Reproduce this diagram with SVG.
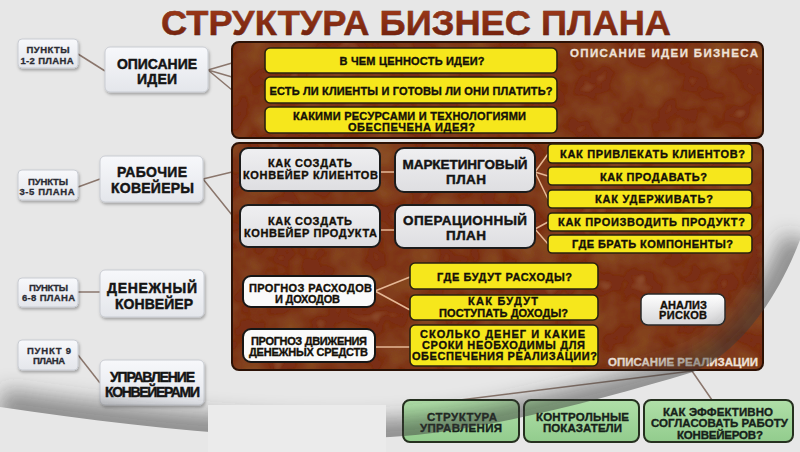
<svg xmlns="http://www.w3.org/2000/svg" width="800" height="452" viewBox="0 0 800 452">
<defs>
<style>
.t{font-family:"Liberation Sans",Arial,Helvetica,sans-serif;font-weight:bold;text-anchor:middle;stroke-width:0.45px}
.s{font-size:9.5px;fill:#2a2b33;stroke:#2a2b33;stroke-width:0.3px}
.b{font-size:14px;fill:#141414;stroke:#141414}
.y{font-size:11px;fill:#141008;stroke:#141008;stroke-width:0.35px}
.m{font-size:13.5px;fill:#141414;stroke:#141414}
.g{font-size:11.5px;fill:#17221a;stroke:#17221a;stroke-width:0.35px}
.pl{font-size:11.5px;fill:#efe2d8;stroke:#efe2d8;stroke-width:0.3px;text-anchor:end}
.lb{fill:url(#gLeft);stroke:#c9ccd2;stroke-width:1}
.yb{fill:#f6e71c;stroke:#2a2210;stroke-width:1.6}
.gb{fill:url(#gGray);stroke:#1c1c1c;stroke-width:2}
.wb{fill:#fafafa;stroke:#161616;stroke-width:2}
.grb{fill:url(#gGreen);stroke:#25301f;stroke-width:2}
.pf{fill:#7a2f15}
.ps{fill:none;stroke:#2c1206;stroke-width:2}
.co{stroke:#8a766c;stroke-width:1.5;fill:none}
.ci{stroke:#e6b896;stroke-width:1.5;fill:none}
</style>
<linearGradient id="gTitle" x1="0" y1="0" x2="0" y2="1">
<stop offset="0" stop-color="#a53e1c"/><stop offset="1" stop-color="#6a1d0b"/>
</linearGradient>
<linearGradient id="gLeft" x1="0" y1="0" x2="0" y2="1">
<stop offset="0" stop-color="#f7f8fb"/><stop offset="1" stop-color="#e4e6eb"/>
</linearGradient>
<linearGradient id="gGray" x1="0" y1="0" x2="0" y2="1">
<stop offset="0" stop-color="#efeff1"/><stop offset="1" stop-color="#dedee1"/>
</linearGradient>
<linearGradient id="gWhite" x1="0" y1="0" x2="0" y2="1">
<stop offset="0" stop-color="#ffffff"/><stop offset="1" stop-color="#d6d6d8"/>
</linearGradient>
<linearGradient id="gGreen" x1="0" y1="0" x2="0" y2="1">
<stop offset="0" stop-color="#b0dfa8"/><stop offset="1" stop-color="#92cc8d"/>
</linearGradient>
<filter id="tex" x="-0.01" y="-0.02" width="1.02" height="1.04">
<feTurbulence type="fractalNoise" baseFrequency="0.03" numOctaves="3" seed="11" result="n"/>
<feColorMatrix in="n" type="matrix" values="0 0 0 0 0.26  0 0 0 0 0.08  0 0 0 0 0.02  1.8 0 0 0 -0.72" result="dk"/>
<feComposite in="dk" in2="SourceGraphic" operator="in" result="dk2"/>
<feColorMatrix in="n" type="matrix" values="0 0 0 0 0.6  0 0 0 0 0.27  0 0 0 0 0.12  -1.0 0 0 0 0.3" result="lt"/>
<feComposite in="lt" in2="SourceGraphic" operator="in" result="lt2"/>
<feMerge><feMergeNode in="SourceGraphic"/><feMergeNode in="dk2"/><feMergeNode in="lt2"/></feMerge>
</filter>
<filter id="sh" x="-0.1" y="-0.1" width="1.3" height="1.4">
<feDropShadow dx="1" dy="2" stdDeviation="1.5" flood-color="#000" flood-opacity="0.3"/>
</filter>
<filter id="fBlur" filterUnits="userSpaceOnUse" x="-60" y="100" width="920" height="420">
<feGaussianBlur stdDeviation="10"/>
</filter>
<clipPath id="cAbove">
<path d="M0,407 C140,428 280,442 390,437 C480,432 600,400 693,372 C735,355 775,305 800,240 L800,0 L0,0 Z"/>
</clipPath>
</defs>

<rect width="800" height="452" fill="#e7e7e7"/>

<g id="title">
<text class="t" x="416" y="35" font-size="35" textLength="510" lengthAdjust="spacingAndGlyphs" fill="url(#gTitle)" stroke="#3a0f05" stroke-width="2.2" paint-order="stroke">СТРУКТУРА БИЗНЕС ПЛАНА</text>
</g>

<g id="connectors">
<path class="co" d="M78,54 L105,71"/>
<path class="co" d="M208,70 L232,63 M208,70 L232,77 M208,70 L232,90"/>
<path class="co" d="M78,187 L100,179"/>
<path class="co" d="M203,179 L232,172 M203,179 L232,215"/>
<path class="co" d="M78,292 L100,292"/>
<path class="co" d="M78,355 L100,383"/>
<path class="co" d="M692,371 L460,400 M692,371 L712,400" stroke-width="1.2"/>
</g>

<g id="panel-idea">
<rect class="pf" x="232" y="42" width="531" height="96" rx="7" filter="url(#tex)"/>
<rect class="ps" x="232" y="42" width="531" height="96" rx="7"/>
<text class="t pl" x="758" y="57" textLength="188">ОПИСАНИЕ ИДЕИ БИЗНЕСА</text>
</g>

<g id="panel-realization">
<rect class="pf" x="232" y="143" width="531" height="227" rx="7" filter="url(#tex)"/>
<rect class="ps" x="232" y="143" width="531" height="227" rx="7"/>
<text class="t pl" x="758" y="366" textLength="150">ОПИСАНИЕ РЕАЛИЗАЦИИ</text>
</g>

<g id="inner-connectors">
<path class="ci" d="M380,172 L395,172 M380,230 L395,230"/>
<path class="ci" d="M535,172 L548,154 M535,172 L548,176 M535,172 L548,199"/>
<path class="ci" d="M535,229 L548,222 M535,229 L548,244"/>
<path class="ci" d="M375,291 L410,277 M375,291 L410,310"/>
<path class="ci" d="M375,347 L410,347"/>
</g>

<g id="points-1-2">
<rect class="lb" x="18" y="39" width="60" height="29" rx="4" filter="url(#sh)"/>
<text class="t s" x="48" y="52.5" textLength="43">ПУНКТЫ</text>
<text class="t s" x="47" y="64" textLength="53">1-2 ПЛАНА</text>
</g>
<g id="idea-desc">
<rect class="lb" x="105" y="47" width="103" height="45" rx="5" filter="url(#sh)"/>
<text class="t b" x="157" y="68.5" textLength="80">ОПИСАНИЕ</text>
<text class="t b" x="157" y="84" textLength="40">ИДЕИ</text>
</g>
<g id="points-3-5">
<rect class="lb" x="18" y="170" width="60" height="30" rx="4" filter="url(#sh)"/>
<text class="t s" x="48" y="184.5" textLength="40">ПУНКТЫ</text>
<text class="t s" x="47" y="195" textLength="55">3-5 ПЛАНА</text>
</g>
<g id="work-conveyors">
<rect class="lb" x="100" y="156" width="103" height="46" rx="5" filter="url(#sh)"/>
<text class="t b" x="152" y="177" textLength="70">РАБОЧИЕ</text>
<text class="t b" x="152.5" y="193" textLength="83">КОВЕЙЕРЫ</text>
</g>
<g id="points-6-8">
<rect class="lb" x="18" y="278" width="60" height="29" rx="4" filter="url(#sh)"/>
<text class="t s" x="48.5" y="290.5" textLength="39">ПУНКТЫ</text>
<text class="t s" x="48.5" y="301" textLength="53">6-8 ПЛАНА</text>
</g>
<g id="money-conveyor">
<rect class="lb" x="100" y="270" width="104" height="47" rx="5" filter="url(#sh)"/>
<text class="t b" x="152" y="292.5" textLength="90">ДЕНЕЖНЫЙ</text>
<text class="t b" x="154" y="308.5" textLength="78">КОНВЕЙЕР</text>
</g>
<g id="point-9">
<rect class="lb" x="18" y="340" width="60" height="30" rx="4" filter="url(#sh)"/>
<text class="t s" x="49" y="353.5" textLength="44">ПУНКТ 9</text>
<text class="t s" x="49" y="364" textLength="32">ПЛАНА</text>
</g>
<g id="conveyor-management">
<rect class="lb" x="100" y="360" width="104" height="45" rx="5" filter="url(#sh)"/>
<text class="t b" x="152.5" y="381.5" textLength="85">УПРАВЛЕНИЕ</text>
<text class="t b" x="152.5" y="396.5" textLength="95">КОНВЕЙЕРАМИ</text>
</g>

<g id="q-value">
<rect class="yb" x="265" y="48" width="292" height="25" rx="5"/>
<text class="t y" x="412" y="65" textLength="145">В ЧЕМ ЦЕННОСТЬ ИДЕИ?</text>
</g>
<g id="q-clients">
<rect class="yb" x="265" y="77" width="292" height="26" rx="5"/>
<text class="t y" x="411" y="95" textLength="283">ЕСТЬ ЛИ КЛИЕНТЫ И ГОТОВЫ ЛИ ОНИ ПЛАТИТЬ?</text>
</g>
<g id="q-resources">
<rect class="yb" x="265" y="107" width="292" height="26" rx="5"/>
<text class="t y" x="409.5" y="119.5" textLength="233">КАКИМИ РЕСУРСАМИ И ТЕХНОЛОГИЯМИ</text>
<text class="t y" x="411.5" y="130.5" textLength="127">ОБЕСПЕЧЕНА ИДЕЯ?</text>
</g>

<g id="client-conveyor">
<rect class="gb" x="240" y="148" width="140" height="43" rx="8"/>
<text class="t y" x="310" y="167" textLength="84">КАК СОЗДАТЬ</text>
<text class="t y" x="310.5" y="178.5" textLength="135">КОНВЕЙЕР КЛИЕНТОВ</text>
</g>
<g id="product-conveyor">
<rect class="gb" x="240" y="205" width="140" height="42" rx="8"/>
<text class="t y" x="310" y="224.5" textLength="84">КАК СОЗДАТЬ</text>
<text class="t y" x="310.5" y="236.5" textLength="133">КОНВЕЙЕР ПРОДУКТА</text>
</g>
<g id="marketing-plan">
<rect class="gb" x="395" y="148" width="140" height="44" rx="9"/>
<text class="t m" x="465" y="168.5" textLength="125">МАРКЕТИНГОВЫЙ</text>
<text class="t m" x="466" y="183.5" textLength="40">ПЛАН</text>
</g>
<g id="operational-plan">
<rect class="gb" x="395" y="205" width="140" height="43" rx="9"/>
<text class="t m" x="465" y="224.5" textLength="124">ОПЕРАЦИОННЫЙ</text>
<text class="t m" x="466" y="239.5" textLength="40">ПЛАН</text>
</g>

<g id="q-attract">
<rect class="yb" x="548" y="144" width="204" height="19" rx="4"/>
<text class="t y" x="652.5" y="158" textLength="185">КАК ПРИВЛЕКАТЬ КЛИЕНТОВ?</text>
</g>
<g id="q-sell">
<rect class="yb" x="548" y="167" width="204" height="18" rx="4"/>
<text class="t y" x="653.5" y="180.5" textLength="107">КАК ПРОДАВАТЬ?</text>
</g>
<g id="q-retain">
<rect class="yb" x="548" y="190" width="204" height="18" rx="4"/>
<text class="t y" x="654" y="202.5" textLength="118">КАК УДЕРЖИВАТЬ?</text>
</g>
<g id="q-produce">
<rect class="yb" x="548" y="213" width="204" height="18" rx="4"/>
<text class="t y" x="651.5" y="225.5" textLength="187">КАК ПРОИЗВОДИТЬ ПРОДУКТ?</text>
</g>
<g id="q-components">
<rect class="yb" x="548" y="235" width="204" height="18" rx="4"/>
<text class="t y" x="652.5" y="248" textLength="161">ГДЕ БРАТЬ КОМПОНЕНТЫ?</text>
</g>

<g id="forecast-income">
<rect class="wb" x="243" y="276" width="132" height="31" rx="8"/>
<text class="t y" x="310.5" y="291.5" textLength="123">ПРОГНОЗ РАСХОДОВ</text>
<text class="t y" x="307.5" y="303" textLength="65">И ДОХОДОВ</text>
</g>
<g id="forecast-cash">
<rect class="wb" x="243" y="329" width="132" height="33" rx="8"/>
<text class="t y" x="309" y="345" textLength="116">ПРОГНОЗ ДВИЖЕНИЯ</text>
<text class="t y" x="308.5" y="356" textLength="119">ДЕНЕЖНЫХ СРЕДСТВ</text>
</g>

<g id="q-expenses">
<rect class="yb" x="410" y="263" width="188" height="26" rx="5"/>
<text class="t y" x="504.5" y="281" textLength="135">ГДЕ БУДУТ РАСХОДЫ?</text>
</g>
<g id="q-revenue">
<rect class="yb" x="410" y="295" width="188" height="25" rx="5"/>
<text class="t y" x="503" y="305" textLength="70">КАК БУДУТ</text>
<text class="t y" x="503.5" y="317" textLength="129">ПОСТУПАТЬ ДОХОДЫ?</text>
</g>
<g id="q-money">
<rect class="yb" x="410" y="325" width="188" height="41" rx="5"/>
<text class="t y" x="502.5" y="337.5" textLength="165">СКОЛЬКО ДЕНЕГ И КАКИЕ</text>
<text class="t y" x="503.5" y="348.5" textLength="163">СРОКИ НЕОБХОДИМЫ ДЛЯ</text>
<text class="t y" x="504.5" y="360" textLength="185">ОБЕСПЕЧЕНИЯ РЕАЛИЗАЦИИ?</text>
</g>

<g id="risk-analysis">
<rect x="641" y="294" width="84" height="31" rx="7" fill="url(#gWhite)" stroke="#2a2a2a" stroke-width="1.5"/>
<text class="t y" x="683.5" y="308.5" textLength="47">АНАЛИЗ</text>
<text class="t y" x="683" y="319" textLength="48">РИСКОВ</text>
</g>

<g id="mgmt-structure">
<rect class="grb" x="403" y="400" width="116" height="42" rx="7"/>
<text class="t g" x="462" y="420.5" textLength="70">СТРУКТУРА</text>
<text class="t g" x="461" y="432" textLength="82">УПРАВЛЕНИЯ</text>
</g>
<g id="kpi">
<rect class="grb" x="524" y="400" width="115" height="42" rx="7"/>
<text class="t g" x="582.5" y="420.5" textLength="93">КОНТРОЛЬНЫЕ</text>
<text class="t g" x="582.5" y="432" textLength="79">ПОКАЗАТЕЛИ</text>
</g>
<g id="coordinate">
<rect class="grb" x="644" y="400" width="149" height="42" rx="7"/>
<text class="t g" x="718" y="415.5" textLength="110">КАК ЭФФЕКТИВНО</text>
<text class="t g" x="719.5" y="427" textLength="137">СОГЛАСОВАТЬ РАБОТУ</text>
<text class="t g" x="720" y="438.5" textLength="86">КОНВЕЙЕРОВ?</text>
</g>

<g id="swoosh" clip-path="url(#cAbove)">
<path d="M0,407 C140,428 280,442 390,437 C480,432 600,400 693,372 C735,355 775,305 800,240" fill="none" stroke="#3a3a3a" stroke-opacity="0.5" stroke-width="36" filter="url(#fBlur)"/>
</g>
<rect x="208" y="405" width="178" height="47" fill="#ebebeb"/>
</svg>
